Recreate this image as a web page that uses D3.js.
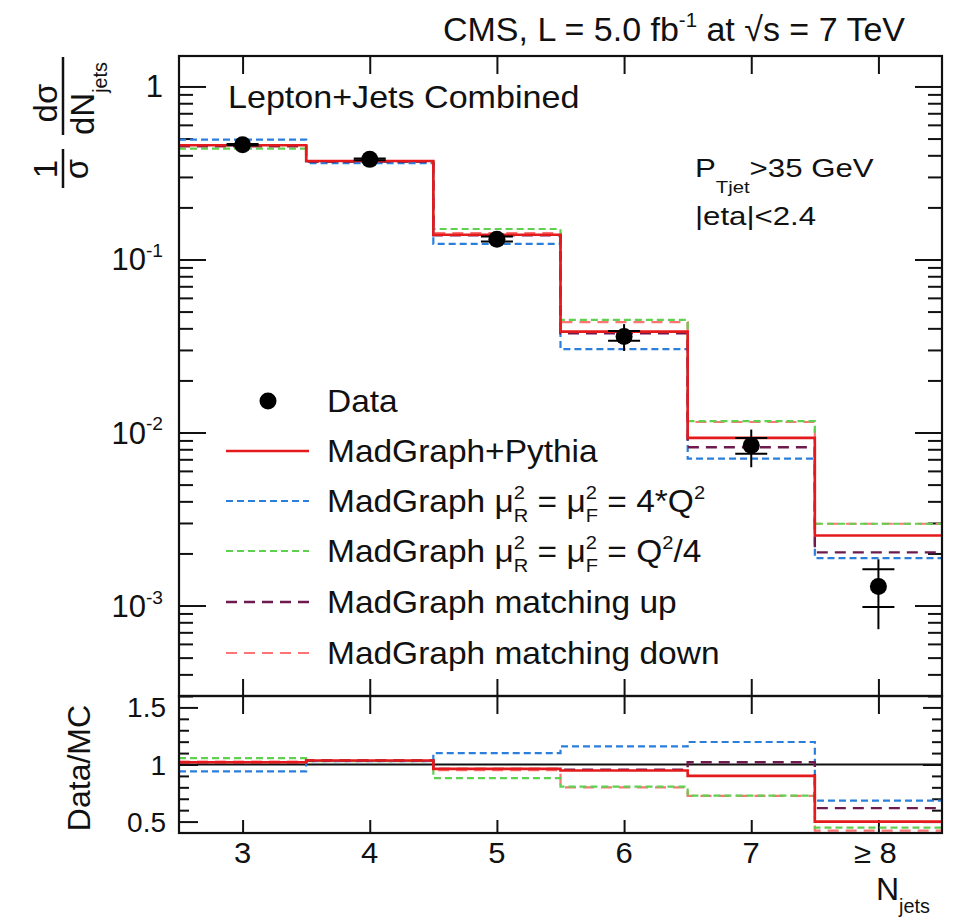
<!DOCTYPE html>
<html>
<head>
<meta charset="utf-8">
<script src="https://cdn.jsdelivr.net/npm/d3@7"></script>
<style>
  body { margin: 0; background: #fff; }
  svg { display: block; }
  text { font-family: "Liberation Sans", Arial, sans-serif; fill: #111; white-space: pre; }
</style>
</head>
<body>
<script>
// bins and tick labels
const binCenters = [3, 4, 5, 6, 7, 8];
const binLabels = ["3", "4", "5", "6", "7", "\u2265 8"];

// data points (normalised cross section) with stat (crossbars) and total errors
const dataVal    = [0.461, 0.379, 0.131, 0.0359, 0.00841, 0.00129];
const dataStatLo = [0.457, 0.375, 0.127, 0.0339, 0.00755, 0.00098];
const dataStatHi = [0.465, 0.383, 0.136, 0.0386, 0.00931, 0.00162];
const dataTotLo  = [0.452, 0.370, 0.125, 0.0296, 0.0063, 0.00073];
const dataTotHi  = [0.470, 0.388, 0.138, 0.0423, 0.0104, 0.00185];

// MC predictions
const mgPythia  = [0.457, 0.371, 0.139, 0.0383, 0.00931, 0.00254];
const scaleUp   = [0.493, 0.361, 0.123, 0.0303, 0.00707, 0.00188];
const scaleDown = [0.437, 0.370, 0.150, 0.0448, 0.01163, 0.00297];
const matchUp   = [0.452, 0.368, 0.138, 0.0375, 0.00822, 0.00203];
const matchDown = [0.450, 0.368, 0.142, 0.0435, 0.0115, 0.00297];

// Data/MC ratios
const ratioPythia    = [1.02, 1.035, 0.962, 0.947, 0.90, 0.50];
const ratioScaleUp   = [0.94, 1.03, 1.10, 1.159, 1.197, 0.683];
const ratioScaleDown = [1.056, 1.03, 0.88, 0.806, 0.727, 0.447];
const ratioMatchUp   = [1.02, 1.035, 0.962, 0.955, 1.02, 0.618];
const ratioMatchDown = [1.025, 1.035, 0.95, 0.80, 0.725, 0.42];

const series = [
  { name: "pythia", vals: mgPythia, ratio: ratioPythia, color: "#e41a1c", dash: null, w: 2.6 },
  { name: "scaleUp", vals: scaleUp, ratio: ratioScaleUp, color: "#2a7fdc", dash: "7,4", w: 2.2 },
  { name: "scaleDown", vals: scaleDown, ratio: ratioScaleDown, color: "#5fd04f", dash: "7,4", w: 2.2 },
  { name: "matchUp", vals: matchUp, ratio: ratioMatchUp, color: "#6e1a4e", dash: "11,7", w: 2.4 },
  { name: "matchDown", vals: matchDown, ratio: ratioMatchDown, color: "#ff7474", dash: "11,7", w: 2.2 }
];
// drawing order: back to front
const drawOrder = ["matchDown", "scaleDown", "scaleUp", "matchUp", "pythia"];

const W = 957, H = 920;
const L = 179, R = 942, T = 56, MID = 696, B = 833;

const svg = d3.select("body").append("svg").attr("width", W).attr("height", H);

const x = d3.scaleLinear().domain([2.5, 8.5]).range([L, R]);
const y = d3.scaleLog().domain([3e-4, 1.5]).range([MID, T]);
const yr = d3.scaleLinear().domain([0.4, 1.6]).range([B, MID]);

// rich text helper: sequential pieces, with super/subscripts
function rich(parent, x0, y0, parts, fs, opts = {}) {
  const g = parent.append("g");
  let cx = 0;
  parts.forEach(p => {
    if (p.stack) {
      const a = g.append("text").attr("x", cx).attr("y", -0.42 * fs).attr("font-size", fs * 0.6).text(p.stack[0]);
      const b = g.append("text").attr("x", cx).attr("y", 0.32 * fs).attr("font-size", fs * 0.6).text(p.stack[1]);
      cx += Math.max(a.node().getComputedTextLength(), b.node().getComputedTextLength());
    } else {
      const s = p.s || 1;
      const t = g.append("text").attr("x", cx).attr("y", (p.dy || 0) * fs).attr("font-size", fs * s).text(p.t);
      cx += t.node().getComputedTextLength();
    }
  });
  const sx = opts.sx || 1;
  const w = cx * sx;
  const xs = opts.anchor === "end" ? x0 - w : opts.anchor === "middle" ? x0 - w / 2 : x0;
  g.attr("transform", `translate(${xs},${y0})` + (sx !== 1 ? ` scale(${sx},1)` : ""));
  return g;
}

// ---------- axes ticks ----------
const majorsLog = [1, 0.1, 0.01, 0.001];
const minorsLog = [];
[1, 0.1, 0.01, 0.001, 0.0001].forEach(dec => {
  for (let k = 2; k <= 9; k++) {
    const val = dec * k;
    if (val >= 3e-4 && val <= 1.5 && !majorsLog.includes(val)) minorsLog.push(val);
  }
});
const tickStyle = g => { g.select(".domain").remove(); g.selectAll("line").attr("stroke", "#111").attr("stroke-width", 2); };

[[L, d3.axisLeft], [R, d3.axisRight]].forEach(([px, ax]) => {
  svg.append("g").attr("transform", `translate(${px},0)`)
    .call(ax(y).tickValues(majorsLog).tickSize(-27).tickFormat("")).call(tickStyle);
  svg.append("g").attr("transform", `translate(${px},0)`)
    .call(ax(y).tickValues(minorsLog).tickSize(-14).tickFormat("")).call(tickStyle);
});

// ratio y ticks
const rMajors = [0.5, 1, 1.5];
const rMinors = d3.range(0.5, 1.51, 0.1).map(v => +v.toFixed(1)).filter(v => !rMajors.includes(v));
[[L, d3.axisLeft], [R, d3.axisRight]].forEach(([px, ax]) => {
  svg.append("g").attr("transform", `translate(${px},0)`)
    .call(ax(yr).tickValues(rMajors).tickSize(-19).tickFormat("")).call(tickStyle);
  svg.append("g").attr("transform", `translate(${px},0)`)
    .call(ax(yr).tickValues(rMinors).tickSize(-10).tickFormat("")).call(tickStyle);
});

// x ticks on every horizontal border
svg.append("g").attr("transform", `translate(0,${T})`)
  .call(d3.axisTop(x).tickValues(binCenters).tickSize(-18).tickFormat("")).call(tickStyle);
svg.append("g").attr("transform", `translate(0,${MID})`)
  .call(d3.axisBottom(x).tickValues(binCenters).tickSize(-17).tickFormat("")).call(tickStyle);
svg.append("g").attr("transform", `translate(0,${MID})`)
  .call(d3.axisTop(x).tickValues(binCenters).tickSize(-18).tickFormat("")).call(tickStyle);
svg.append("g").attr("transform", `translate(0,${B})`)
  .call(d3.axisBottom(x).tickValues(binCenters).tickSize(-13).tickFormat("")).call(tickStyle);

// ---------- histograms ----------
function stepPts(vals) {
  const pts = vals.map((v, i) => [binCenters[i] - 0.5, v]);
  pts.push([binCenters[binCenters.length - 1] + 0.5, vals[vals.length - 1]]);
  return pts;
}
const lineTop = d3.line().x(d => x(d[0])).y(d => y(d[1])).curve(d3.curveStepAfter);
const lineRatio = d3.line().x(d => x(d[0])).y(d => yr(d[1])).curve(d3.curveStepAfter);

svg.append("clipPath").attr("id", "clipTop").append("rect")
  .attr("x", L).attr("y", T).attr("width", R - L).attr("height", MID - T);
svg.append("clipPath").attr("id", "clipRatio").append("rect")
  .attr("x", L).attr("y", MID).attr("width", R - L).attr("height", B - MID);

const gTop = svg.append("g").attr("clip-path", "url(#clipTop)");
const gRat = svg.append("g").attr("clip-path", "url(#clipRatio)");

// ratio reference line at 1
gRat.append("line").attr("x1", L).attr("x2", R).attr("y1", yr(1)).attr("y2", yr(1))
  .attr("stroke", "#111").attr("stroke-width", 2);

drawOrder.forEach(n => {
  const s = series.find(d => d.name === n);
  gTop.append("path").attr("d", lineTop(stepPts(s.vals)))
    .attr("fill", "none").attr("stroke", s.color).attr("stroke-width", s.w)
    .attr("stroke-dasharray", s.dash);
  gRat.append("path").attr("d", lineRatio(stepPts(s.ratio)))
    .attr("fill", "none").attr("stroke", s.color).attr("stroke-width", s.w)
    .attr("stroke-dasharray", s.dash);
});

// data points
const gData = gTop.append("g");
binCenters.forEach((c, i) => {
  const cx = x(c);
  gData.append("line").attr("x1", cx).attr("x2", cx)
    .attr("y1", y(dataTotLo[i])).attr("y2", y(dataTotHi[i]))
    .attr("stroke", "#000").attr("stroke-width", 2);
  [dataStatLo[i], dataStatHi[i]].forEach(v => {
    gData.append("line").attr("x1", cx - 16).attr("x2", cx + 16)
      .attr("y1", y(v)).attr("y2", y(v)).attr("stroke", "#000").attr("stroke-width", 2);
  });
  gData.append("circle").attr("cx", cx).attr("cy", y(dataVal[i])).attr("r", 8.5).attr("fill", "#000");
});

// frames
[[T, MID], [MID, B]].forEach(([t, b]) => {
  svg.append("rect").attr("x", L).attr("y", t).attr("width", R - L).attr("height", b - t)
    .attr("fill", "none").attr("stroke", "#111").attr("stroke-width", 2.2);
});

// ---------- labels ----------
const FS = 31;
const logLabels = [["1", null], ["10", "-1"], ["10", "-2"], ["10", "-3"]];
majorsLog.forEach((v, i) => {
  const parts = [{ t: logLabels[i][0] }];
  if (logLabels[i][1]) parts.push({ t: logLabels[i][1], s: 0.62, dy: -0.42 });
  rich(svg, 163, y(v) + 11, parts, FS, { anchor: "end" });
});
["1.5", "1", "0.5"].forEach((lab, i) => {
  rich(svg, 166, yr(rMajors[2 - i]) + 10, [{ t: lab }], 28, { anchor: "end" });
});

binCenters.forEach((c, i) => {
  rich(svg, x(c) + (i === 5 ? -3 : 0), 863, [{ t: binLabels[i] }], 29, { anchor: "middle", sx: 1.07 });
});

// x title
rich(svg, 876, 900, [{ t: "N" }, { t: "jets", s: 0.62, dy: 0.42 }], 32);

// y title: 1/sigma dsigma/dN_jets (rotated)
const gy = svg.append("g").attr("transform", "translate(63,191) rotate(-90)");
gy.append("text").attr("x", 22).attr("y", -6).attr("font-size", 33).attr("text-anchor", "middle").text("1");
gy.append("line").attr("x1", 3).attr("x2", 42).attr("y1", 0).attr("y2", 0).attr("stroke", "#111").attr("stroke-width", 2.5);
gy.append("text").attr("x", 22).attr("y", 25).attr("font-size", 33).attr("text-anchor", "middle").text("\u03c3");
gy.append("text").attr("x", 88).attr("y", -6).attr("font-size", 33).attr("text-anchor", "middle").text("d\u03c3");
gy.append("line").attr("x1", 56).attr("x2", 134).attr("y1", 0).attr("y2", 0).attr("stroke", "#111").attr("stroke-width", 2.5);
rich(gy, 56, 31, [{ t: "dN" }, { t: "jets", s: 0.6, dy: 0.4 }], 33);

// ratio y title
svg.append("text").attr("transform", "translate(90,768) rotate(-90)")
  .attr("text-anchor", "middle").attr("font-size", 32).text("Data/MC");

// header
rich(svg, 905, 41, [
  { t: "CMS, L = 5.0 fb" }, { t: "-1", s: 0.6, dy: -0.42 }, { t: " at " },
  { t: "\u221a" }, { t: "s" }, { t: " = 7 TeV" }
], 34, { anchor: "end" });

// in-plot text
rich(svg, 228, 108, [{ t: "Lepton+Jets Combined" }], 32, { sx: 1.065 });
rich(svg, 695, 177, [{ t: "P" }, { t: "Tjet", s: 0.65, dy: 0.6 }, { t: ">35 GeV" }], 26, { sx: 1.2 });
rich(svg, 695, 225, [{ t: "|eta|<2.4" }], 26, { sx: 1.2 });

// ---------- legend ----------
const legendRows = [
  { key: "data", y: 401, parts: [{ t: "Data" }] },
  { key: "pythia", y: 451, parts: [{ t: "MadGraph+Pythia" }] },
  { key: "scaleUp", y: 501, parts: [{ t: "MadGraph " }, { t: "\u03bc" }, { stack: ["2", "R"] }, { t: " = " }, { t: "\u03bc" }, { stack: ["2", "F"] }, { t: " = 4*Q" }, { t: "2", s: 0.6, dy: -0.42 }] },
  { key: "scaleDown", y: 551, parts: [{ t: "MadGraph " }, { t: "\u03bc" }, { stack: ["2", "R"] }, { t: " = " }, { t: "\u03bc" }, { stack: ["2", "F"] }, { t: " = Q" }, { t: "2", s: 0.6, dy: -0.42 }, { t: "/4" }] },
  { key: "matchUp", y: 602, parts: [{ t: "MadGraph matching up" }] },
  { key: "matchDown", y: 653, parts: [{ t: "MadGraph matching down" }] }
];
legendRows.forEach(r => {
  if (r.key === "data") {
    svg.append("circle").attr("cx", 268).attr("cy", r.y).attr("r", 8.5).attr("fill", "#000");
  } else {
    const s = series.find(d => d.name === r.key);
    svg.append("line").attr("x1", 226).attr("x2", 309).attr("y1", r.y).attr("y2", r.y)
      .attr("stroke", s.color).attr("stroke-width", s.w).attr("stroke-dasharray", s.dash);
  }
  rich(svg, 327, r.y + 11, r.parts, 31, { sx: 1.08 });
});
</script>
</body>
</html>
